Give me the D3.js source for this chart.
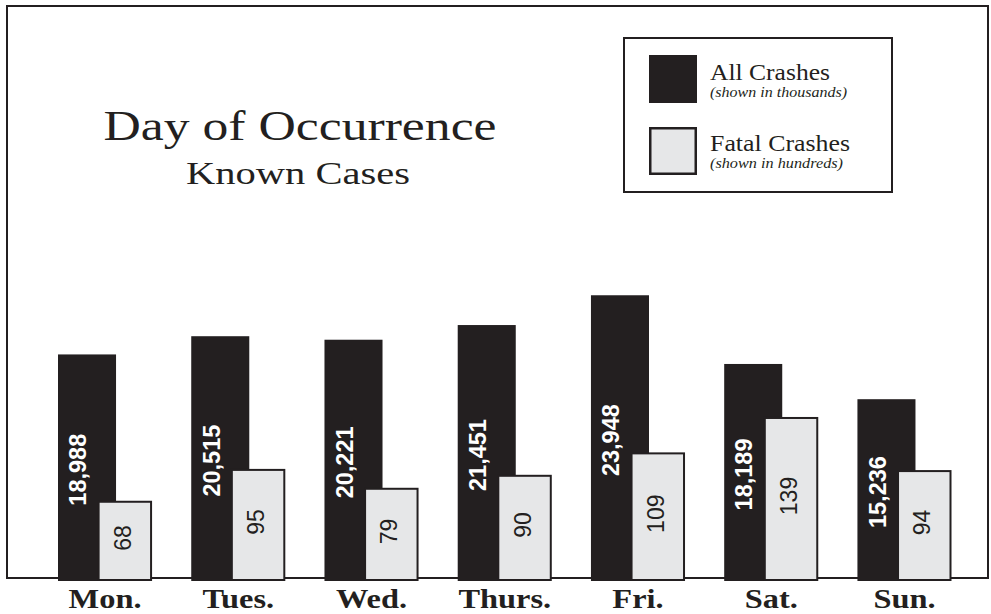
<!DOCTYPE html>
<html>
<head>
<meta charset="utf-8">
<script src="https://cdn.jsdelivr.net/npm/d3@7"></script>
<style>
  html, body { margin: 0; padding: 0; background: #fff; }
  svg { display: block; }
</style>
</head>
<body>
<svg id="chart" width="991" height="614"></svg>
<script>
// ---- Data ----
const days = ["Mon.", "Tues.", "Wed.", "Thurs.", "Fri.", "Sat.", "Sun."];
const allCrashes = [18988, 20515, 20221, 21451, 23948, 18189, 15236];
const fatalCrashes = [68, 95, 79, 90, 109, 139, 94];
const titleLines = ["Day of Occurrence", "Known Cases"];
const legendNames = ["All Crashes", "Fatal Crashes"];
const legendNotes = ["(shown in thousands)", "(shown in hundreds)"];

// ---- Style ----
const DARK = "#231f20";
const LIGHT = "#e6e7e8";
const SERIF = "'Liberation Serif', 'DejaVu Serif', serif";
const SANS = "'Liberation Sans', Arial, sans-serif";

const svg = d3.select("#chart");
const fmt = d3.format(",");

function stretch(sel, factor) {
  sel.each(function () {
    const len = this.getComputedTextLength();
    d3.select(this).attr("textLength", len * factor).attr("lengthAdjust", "spacingAndGlyphs");
  });
}
function fitWidth(sel, w) {
  sel.attr("textLength", w).attr("lengthAdjust", "spacingAndGlyphs");
}

// ---- Scales ----
const x = d3.scaleBand().domain(days).range([58, 951.5]).paddingInner(0.294).paddingOuter(0);
const base = 581;
const yAll = d3.scaleLinear().domain([0, 25000]).range([base, 282.7]);
const yFatal = d3.scaleLinear().domain([0, 250]).range([base, 286]);

const bw = x.bandwidth();
const blackW = bw * 0.617;
const fatalOff = bw * 0.421;
const fatalW = bw * 0.579;

// ---- Frame ----
svg.append("rect")
  .attr("x", 7).attr("y", 6).attr("width", 981).attr("height", 572)
  .attr("fill", "#fff").attr("stroke", DARK).attr("stroke-width", 2);

// ---- Title ----
svg.append("text")
  .attr("x", 300).attr("y", 140)
  .attr("text-anchor", "middle")
  .attr("font-family", SERIF).attr("font-size", 43)
  .attr("fill", DARK)
  .text(titleLines[0])
  .call(fitWidth, 393);
svg.append("text")
  .attr("x", 298).attr("y", 184)
  .attr("text-anchor", "middle")
  .attr("font-family", SERIF).attr("font-size", 32)
  .attr("fill", DARK)
  .text(titleLines[1])
  .call(fitWidth, 224);

// ---- Legend ----
const lg = svg.append("g");
lg.append("rect")
  .attr("x", 624).attr("y", 38).attr("width", 268).attr("height", 154)
  .attr("fill", "#fff").attr("stroke", DARK).attr("stroke-width", 2);
lg.append("rect")
  .attr("x", 649).attr("y", 55).attr("width", 48).attr("height", 48)
  .attr("fill", DARK);
lg.append("rect")
  .attr("x", 650.25).attr("y", 128.25).attr("width", 45.5).attr("height", 45.5)
  .attr("fill", LIGHT).attr("stroke", DARK).attr("stroke-width", 2.5);

const nameY = [80, 151];
const noteY = [97, 168];
const nameW = [120, 140];
const noteW = [137, 133];
legendNames.forEach((n, i) => {
  lg.append("text")
    .attr("x", 710).attr("y", nameY[i])
    .attr("font-family", SERIF).attr("font-size", 23)
    .attr("fill", DARK).text(n)
    .call(fitWidth, nameW[i]);
  lg.append("text")
    .attr("x", 710).attr("y", noteY[i])
    .attr("font-family", SERIF).attr("font-size", 14.5).attr("font-style", "italic")
    .attr("fill", DARK).text(legendNotes[i])
    .call(fitWidth, noteW[i]);
});

// ---- Bars ----
const data = days.map((d, i) => ({ day: d, all: allCrashes[i], fatal: fatalCrashes[i] }));

const g = svg.append("g");
g.selectAll("rect.all")
  .data(data).join("rect")
  .attr("class", "all")
  .attr("x", d => x(d.day))
  .attr("y", d => yAll(d.all))
  .attr("width", blackW)
  .attr("height", d => base - yAll(d.all))
  .attr("fill", DARK);

g.selectAll("rect.fatal")
  .data(data).join("rect")
  .attr("class", "fatal")
  .attr("x", d => x(d.day) + fatalOff + 1)
  .attr("y", d => yFatal(d.fatal) + 1)
  .attr("width", fatalW - 2)
  .attr("height", d => base - 1 - (yFatal(d.fatal) + 1))
  .attr("fill", LIGHT)
  .attr("stroke", DARK)
  .attr("stroke-width", 2);

// value labels
g.selectAll("text.allv")
  .data(data).join("text")
  .attr("class", "allv")
  .attr("transform", d => `translate(${x(d.day) + fatalOff / 2 + 0.5},${(yAll(d.all) + base) / 2 + 2}) rotate(-90)`)
  .attr("text-anchor", "middle")
  .attr("dominant-baseline", "central")
  .attr("font-family", SANS).attr("font-weight", "bold").attr("font-size", 23.5)
  .attr("fill", "#fff")
  .text(d => fmt(d.all));

g.selectAll("text.fatalv")
  .data(data).join("text")
  .attr("class", "fatalv")
  .attr("transform", d => `translate(${x(d.day) + fatalOff + fatalW / 2 - 2},${(yFatal(d.fatal) + base) / 2 - 3}) rotate(-90)`)
  .attr("text-anchor", "middle")
  .attr("dominant-baseline", "central")
  .attr("font-family", SANS).attr("font-size", 23)
  .attr("fill", DARK)
  .text(d => fmt(d.fatal));

// ---- Category labels (axis) ----
const axis = d3.axisBottom(x).tickSize(0).tickPadding(0);
const ax = svg.append("g").attr("transform", `translate(0,${base})`).call(axis);
ax.select(".domain").remove();
ax.selectAll("text")
  .attr("y", 27)
  .attr("dy", 0)
  .attr("font-family", SERIF).attr("font-weight", "bold").attr("font-size", 27)
  .attr("fill", DARK)
  .call(stretch, 1.2);
</script>
</body>
</html>
